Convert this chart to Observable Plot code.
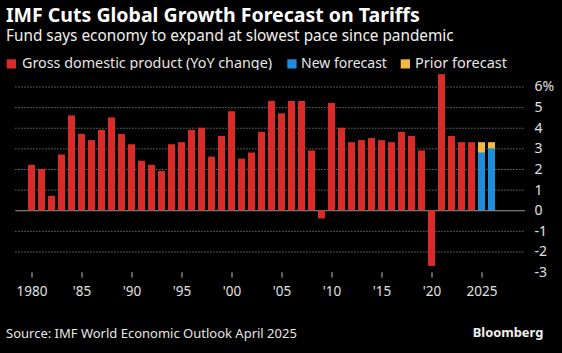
<!DOCTYPE html>
<html><head><meta charset="utf-8">
<script src="https://cdn.jsdelivr.net/npm/d3@7"></script>
<script src="https://cdn.jsdelivr.net/npm/@observablehq/plot@0.6"></script>
<style>
html,body{margin:0;padding:0;background:#000;}
body{width:562px;height:353px;position:relative;overflow:hidden;font-family:"Noto Sans",sans-serif;}
#head,#foot,#chart{position:absolute;left:0;}
#head{top:0;} #chart{top:70px;} #foot{top:310px;}
svg text{font-family:"Noto Sans",sans-serif;}
</style></head><body>
<svg id="head" width="562" height="72"></svg>
<div id="chart"></div>
<svg id="foot" width="562" height="43"></svg>
<script>
// ---- data ----
const years = [1980,1981,1982,1983,1984,1985,1986,1987,1988,1989,1990,1991,1992,1993,1994,1995,1996,1997,1998,1999,2000,2001,2002,2003,2004,2005,2006,2007,2008,2009,2010,2011,2012,2013,2014,2015,2016,2017,2018,2019,2020,2021,2022,2023,2024];
const gdp = [2.2,2.0,0.7,2.7,4.6,3.7,3.4,3.9,4.5,3.7,3.2,2.4,2.2,1.9,3.2,3.3,3.9,4.0,2.6,3.6,4.8,2.5,2.8,3.8,5.3,4.7,5.3,5.3,2.9,-0.4,5.2,4.0,3.3,3.4,3.5,3.4,3.3,3.8,3.6,2.9,-2.7,6.6,3.6,3.3,3.3];
const forecastYears = [2025, 2026];
const newForecast = [2.8, 3.0];
const priorForecast = [3.3, 3.3];
const xTickYears = [1980,1985,1990,1995,2000,2005,2010,2015,2020,2025];
const xTickLabels = ["1980","'85","'90","'95","'00","'05","'10","'15","'20","2025"];
const yTicks = [-3,-2,-1,0,1,2,3,4,5,6];
const yTickLabels = ["-3","-2","-1","0","1","2","3","4","5","6%"];
const gridValues = [-2,-1,1,2,3,4,5,6];

const title = "IMF Cuts Global Growth Forecast on Tariffs";
const subtitle = "Fund says economy to expand at slowest pace since pandemic";
const legendLabels = ["Gross domestic product (YoY change)", "New forecast", "Prior forecast"];
const source = "Source: IMF World Economic Outlook April 2025";
const brand = "Bloomberg";

const RED = "#d92b27", BLUE = "#1d8ddc", YELLOW = "#f3b941";

// ---- chart ----
const rows = years.map((year, i) => ({year, value: gdp[i]}));
const fc = forecastYears.map((year, i) => ({year, newv: newForecast[i], prior: priorForecast[i]}));
const allYears = years.concat(forecastYears);

const chart = Plot.plot({
  width: 562, height: 240,
  marginTop: 16.5, marginBottom: 37.9, marginLeft: 15.3, marginRight: 37,
  style: {background: "#000", color: "#ddd", fontFamily: "Noto Sans, sans-serif", fontSize: "13.5px"},
  x: {type: "band", domain: allYears, range: [15.3, 508.4], paddingInner: 0.3, paddingOuter: 0.15, axis: null, label: null},
  y: {domain: [-3, 6], axis: null, label: null},
  marks: [
    Plot.ruleY(gridValues, {stroke: "#8a8a8a", strokeDasharray: "1.2,1.8", strokeWidth: 1}),
    Plot.ruleY([0], {stroke: "#9a9a9a", strokeWidth: 1}),
    Plot.barY(rows, {x: "year", y: "value", fill: RED}),
    Plot.barY(fc, {x: "year", y: "prior", fill: YELLOW}),
    Plot.barY(fc, {x: "year", y: "newv", fill: BLUE}),
    Plot.axisX({ticks: xTickYears, tickSize: 5.5, tickPadding: 8, label: null,
      tickFormat: d => xTickLabels[xTickYears.indexOf(d)], stroke: "#bbb", fill: "#e0e0e0", fontSize: 13.5}),
    Plot.axisY({anchor: "right", ticks: yTicks, tickSize: 0, tickPadding: 9, textAnchor: "start", label: null,
      tickFormat: d => yTickLabels[yTicks.indexOf(d)], fill: "#e0e0e0", fontSize: 14})
  ]
});
document.getElementById("chart").appendChild(chart);

// ---- header / footer ----
const NS = "http://www.w3.org/2000/svg";
function fitText(svg, {text, x, y, width, weight = 400, fill = "#fff", anchor = "start"}) {
  const t = document.createElementNS(NS, "text");
  t.setAttribute("x", x); t.setAttribute("y", y);
  t.setAttribute("fill", fill); t.setAttribute("text-anchor", anchor);
  t.style.fontWeight = weight; t.style.fontSize = "20px";
  t.textContent = text;
  svg.appendChild(t);
  const w = t.getComputedTextLength();
  if (w > 0) t.style.fontSize = (20 * width / w).toFixed(2) + "px";
  return t;
}
function rect(svg, x, y, w, h, fill) {
  const r = document.createElementNS(NS, "rect");
  r.setAttribute("x", x); r.setAttribute("y", y); r.setAttribute("width", w); r.setAttribute("height", h);
  r.setAttribute("fill", fill); svg.appendChild(r);
}
const head = document.getElementById("head");
fitText(head, {text: title, x: 6, y: 21.7, width: 414, weight: 700, fill: "#fff"});
fitText(head, {text: subtitle, x: 6, y: 40.5, width: 448, fill: "#f0f0f0"});
const legendColors = [RED, BLUE, YELLOW];
const legendSquareX = [6.7, 287.3, 400.7];
const legendTextX = [22, 301, 415];
const legendWidths = [250, 86, 92];
legendLabels.forEach((lab, i) => {
  rect(head, legendSquareX[i], 59.3, 9.3, 9.2, legendColors[i]);
  fitText(head, {text: lab, x: legendTextX[i], y: 68.3, width: legendWidths[i], fill: "#e6e6e6"});
});
const foot = document.getElementById("foot");
fitText(foot, {text: source, x: 6, y: 27.7, width: 291, fill: "#e6e6e6"});
fitText(foot, {text: brand, x: 543.3, y: 26.7, width: 70.6, weight: 700, fill: "#f0f0f0", anchor: "end"});
</script>
</body></html>
